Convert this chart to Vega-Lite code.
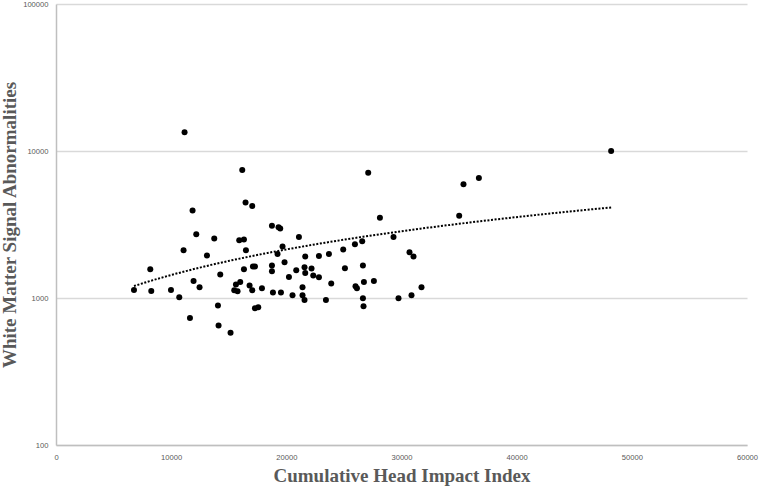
{
  "$schema": "https://vega.github.io/schema/vega-lite/v6.json",
  "autosize": "none",
  "width": 691,
  "height": 441,
  "padding": {"left": 56, "top": 4, "right": 12, "bottom": 43},
  "background": "white",
  "config": {"view": {"stroke": null}},
  "data": {"values": [
    {"chii": 6771, "wmsa": 1134},
    {"chii": 8186, "wmsa": 1569},
    {"chii": 8273, "wmsa": 1116},
    {"chii": 9983, "wmsa": 1134},
    {"chii": 10703, "wmsa": 1011},
    {"chii": 11077, "wmsa": 2114},
    {"chii": 11163, "wmsa": 13413},
    {"chii": 11632, "wmsa": 730},
    {"chii": 11858, "wmsa": 3943},
    {"chii": 11945, "wmsa": 1306},
    {"chii": 12179, "wmsa": 2719},
    {"chii": 12465, "wmsa": 1183},
    {"chii": 13108, "wmsa": 1946},
    {"chii": 13741, "wmsa": 2541},
    {"chii": 14063, "wmsa": 888},
    {"chii": 14115, "wmsa": 651},
    {"chii": 14262, "wmsa": 1444},
    {"chii": 15156, "wmsa": 581},
    {"chii": 15478, "wmsa": 1128},
    {"chii": 15625, "wmsa": 1234},
    {"chii": 15764, "wmsa": 1111},
    {"chii": 15911, "wmsa": 2474},
    {"chii": 15998, "wmsa": 1286},
    {"chii": 16172, "wmsa": 7420},
    {"chii": 16320, "wmsa": 2501},
    {"chii": 16320, "wmsa": 1569},
    {"chii": 16458, "wmsa": 4469},
    {"chii": 16493, "wmsa": 2114},
    {"chii": 16806, "wmsa": 1215},
    {"chii": 17040, "wmsa": 4218},
    {"chii": 17040, "wmsa": 1128},
    {"chii": 17101, "wmsa": 1637},
    {"chii": 17274, "wmsa": 1637},
    {"chii": 17274, "wmsa": 851},
    {"chii": 17561, "wmsa": 864},
    {"chii": 17882, "wmsa": 1164},
    {"chii": 18750, "wmsa": 3096},
    {"chii": 18750, "wmsa": 1663},
    {"chii": 18750, "wmsa": 1521},
    {"chii": 18837, "wmsa": 1089},
    {"chii": 19236, "wmsa": 1995},
    {"chii": 19323, "wmsa": 3034},
    {"chii": 19470, "wmsa": 2972},
    {"chii": 19531, "wmsa": 1089},
    {"chii": 19670, "wmsa": 2240},
    {"chii": 19844, "wmsa": 1752},
    {"chii": 20226, "wmsa": 1391},
    {"chii": 20538, "wmsa": 1043},
    {"chii": 20860, "wmsa": 1545},
    {"chii": 21094, "wmsa": 2605},
    {"chii": 21406, "wmsa": 1183},
    {"chii": 21406, "wmsa": 1043},
    {"chii": 21580, "wmsa": 1619},
    {"chii": 21580, "wmsa": 969},
    {"chii": 21641, "wmsa": 1915},
    {"chii": 21641, "wmsa": 1481},
    {"chii": 22188, "wmsa": 1586},
    {"chii": 22335, "wmsa": 1421},
    {"chii": 22830, "wmsa": 1933},
    {"chii": 22830, "wmsa": 1384},
    {"chii": 23438, "wmsa": 969},
    {"chii": 23698, "wmsa": 1995},
    {"chii": 23898, "wmsa": 1254},
    {"chii": 24939, "wmsa": 2138},
    {"chii": 25087, "wmsa": 1594},
    {"chii": 25955, "wmsa": 2323},
    {"chii": 26007, "wmsa": 1202},
    {"chii": 26129, "wmsa": 1164},
    {"chii": 26589, "wmsa": 2435},
    {"chii": 26649, "wmsa": 1663},
    {"chii": 26649, "wmsa": 995},
    {"chii": 26702, "wmsa": 878},
    {"chii": 26736, "wmsa": 1286},
    {"chii": 27110, "wmsa": 7113},
    {"chii": 27604, "wmsa": 1306},
    {"chii": 28125, "wmsa": 3511},
    {"chii": 29306, "wmsa": 2605},
    {"chii": 29740, "wmsa": 995},
    {"chii": 30695, "wmsa": 2049},
    {"chii": 30868, "wmsa": 1043},
    {"chii": 31042, "wmsa": 1915},
    {"chii": 31736, "wmsa": 1183},
    {"chii": 35009, "wmsa": 3622},
    {"chii": 35382, "wmsa": 5930},
    {"chii": 36719, "wmsa": 6546},
    {"chii": 48203, "wmsa": 10000}
  ]},
  "encoding": {
    "x": {
      "field": "chii", "type": "quantitative",
      "scale": {"domain": [0, 60000], "nice": false, "zero": false},
      "axis": {
        "title": "Cumulative Head Impact Index",
        "values": [0, 10000, 20000, 30000, 40000, 50000, 60000],
        "format": "d",
        "grid": false, "ticks": false,
        "domainColor": "#bfbfbf", "domainWidth": 1.5,
        "labelFont": "Liberation Sans", "labelFontSize": 7.6, "labelColor": "#595959",
        "labelPadding": 8, "labelFlush": false,
        "titleFont": "Liberation Serif", "titleFontSize": 19, "titleFontWeight": "bold",
        "titleColor": "#595959", "titleBaseline": "alphabetic", "titleY": 36.5
      }
    },
    "y": {
      "field": "wmsa", "type": "quantitative",
      "scale": {"type": "log", "domain": [100, 100000], "nice": false},
      "axis": {
        "title": "White Matter Signal Abnormalities",
        "values": [100, 1000, 10000, 100000],
        "format": "d",
        "grid": true, "gridColor": "#d9d9d9", "gridWidth": 1.5,
        "ticks": false,
        "domainColor": "#bfbfbf", "domainWidth": 1.5,
        "labelFont": "Liberation Sans", "labelFontSize": 7.6, "labelColor": "#595959",
        "labelPadding": 8,
        "titleFont": "Liberation Serif", "titleFontSize": 19, "titleFontWeight": "bold",
        "titleColor": "#595959", "titleBaseline": "alphabetic", "titleX": -41
      }
    }
  },
  "layer": [
    {
      "mark": {"type": "point", "filled": true, "shape": "circle", "size": 36, "color": "black", "opacity": 1}
    },
    {
      "transform": [{"regression": "wmsa", "on": "chii", "method": "poly", "order": 1}, {"filter": "datum.wmsa > 0"}],
      "mark": {"type": "line", "color": "black", "strokeWidth": 2, "strokeDash": [2, 1.6], "interpolate": "linear"}
    }
  ]
}
